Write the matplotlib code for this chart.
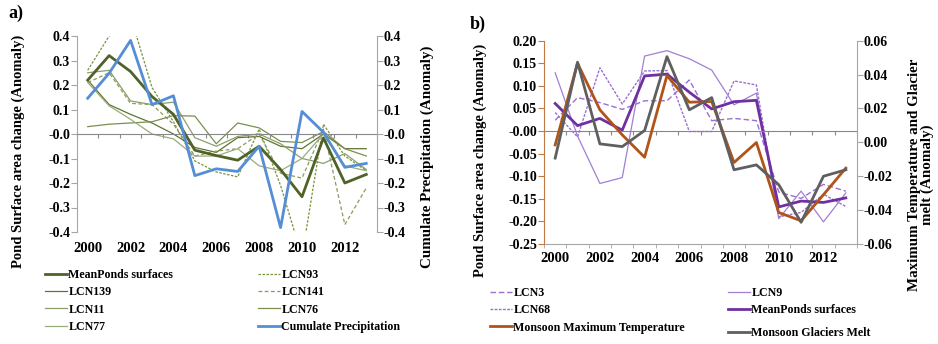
import matplotlib
matplotlib.use("Agg")
import matplotlib.pyplot as plt
from matplotlib.ticker import FormatStrFormatter
import numpy as np

plt.rcParams['font.family'] = ['Liberation Serif', 'DejaVu Serif']
plt.rcParams['font.weight'] = 'bold'
plt.rcParams['axes.unicode_minus'] = False

years = list(range(2000, 2014))
year_labels = [str(y) for y in years[::2]]

# ---- panel a: ponds vs precipitation
mean_a = [0.22, 0.32, 0.255, 0.153, 0.08, -0.066, -0.088, -0.107, -0.05, -0.145, -0.256, -0.016, -0.20, -0.165]
lcn93 = [0.26, 0.40, 0.48, 0.19, 0.05, -0.11, -0.155, -0.175, 0.02, -0.21, -0.50, 0.04, -0.09, -0.15]
lcn141 = [0.21, 0.25, 0.125, 0.12, 0.04, -0.09, -0.07, -0.06, 0.0, -0.16, -0.18, 0.02, -0.37, -0.22]
lcn139 = [0.22, 0.12, 0.08, 0.045, 0.0, -0.055, -0.075, -0.015, -0.01, -0.05, -0.06, 0.0, -0.06, -0.06]
lcn11 = [0.25, 0.26, 0.135, 0.12, 0.13, -0.015, -0.05, -0.01, 0.0, -0.04, -0.10, -0.12, -0.08, -0.145]
lcn76 = [0.03, 0.04, 0.045, 0.05, 0.075, 0.073, -0.04, 0.045, 0.025, -0.03, -0.035, 0.01, -0.06, -0.09]
lcn77 = [0.21, 0.115, 0.06, 0.0, -0.02, -0.09, -0.09, -0.06, -0.13, -0.15, -0.10, 0.0, -0.13, -0.15]
precip = [0.146, 0.248, 0.382, 0.12, 0.156, -0.17, -0.142, -0.153, -0.05, -0.382, 0.092, 0.007, -0.136, -0.12]

# ---- panel b: ponds vs temperature / glacier melt
lcn3 = [0.024, 0.074, 0.063, 0.048, 0.067, 0.067, 0.113, 0.023, 0.028, 0.023, -0.135, -0.149, -0.118, -0.133]
lcn68 = [0.041, -0.013, 0.140, 0.060, 0.133, 0.134, -0.001, -0.001, 0.111, 0.102, -0.19, -0.18, -0.14, -0.167]
lcn9 = [0.129, -0.011, -0.116, -0.103, 0.166, 0.178, 0.160, 0.135, 0.058, 0.084, -0.194, -0.133, -0.201, -0.137]
mean_b = [0.061, 0.012, 0.028, 0.002, 0.122, 0.126, 0.086, 0.049, 0.065, 0.068, -0.168, -0.155, -0.158, -0.148]
max_temp = [-0.0015, 0.0467, 0.0192, 0.0044, -0.0088, 0.0394, 0.0237, 0.0241, -0.0119, -0.0001, -0.0414, -0.0463, -0.0309, -0.0152]
glacier = [-0.0093, 0.0473, -0.0009, -0.0025, 0.0070, 0.0506, 0.0192, 0.0264, -0.0162, -0.0133, -0.0250, -0.0472, -0.0200, -0.0162]

W, H = 938, 344
fig = plt.figure(figsize=(W / 100, H / 100), dpi=100)

spine_grey = '#a6a6a6'
bounds = np.arange(1999.5, 2014.0, 1.0)


def fx(px):
    return px / W


def fy(py):
    return 1 - py / H


def style_axes(ax, ax2, ylim, y2lim, left_color, fmt, fmt2, yticks, y2ticks, bottom_line):
    ax.set_xlim(1999.5, 2013.5)
    ax.set_ylim(*ylim)
    ax2.set_ylim(*y2lim)
    for s in ['top', 'right']:
        ax.spines[s].set_visible(False)
    for s in ['top', 'left', 'bottom']:
        ax2.spines[s].set_visible(False)
    ax.spines['left'].set_color(left_color)
    ax2.spines['right'].set_color(spine_grey)
    # category axis crosses at zero
    ax.spines['bottom'].set_position(('data', 0))
    ax.spines['bottom'].set_color('#888888')
    ax.set_xticks(bounds)
    ax.set_xticklabels([])
    ax.tick_params(axis='x', length=3, color='#888888', direction='out')
    ax.set_yticks(yticks)
    ax.yaxis.set_major_formatter(FormatStrFormatter(fmt))
    ax.tick_params(axis='y', length=4, color=left_color, labelsize=10, pad=1)
    ax2.set_yticks(y2ticks)
    ax2.yaxis.set_major_formatter(FormatStrFormatter(fmt2))
    ax2.tick_params(axis='y', length=4, color=spine_grey, labelsize=10, pad=1)
    # year labels sit at the bottom of the plot area
    sec = ax.secondary_xaxis(0)
    sec.set_xticks(years[::2])
    sec.set_xticklabels(year_labels)
    sec.tick_params(axis='x', which='major', length=0, labelsize=10.5, pad=7 if not bottom_line else 6)
    if bottom_line:
        sec.spines['bottom'].set_color(spine_grey)
        sec.set_xticks(bounds, minor=True)
        sec.tick_params(axis='x', which='minor', length=3, color=spine_grey)
    else:
        sec.spines['bottom'].set_visible(False)


# ---------------- panel a
axa = fig.add_axes([fx(77), fy(232), fx(377) - fx(77), fy(36) - fy(232)])
axa2 = axa.twinx()
thin = 0.9
l_mean, = axa.plot(years, mean_a, color='#4f6228', lw=2.0, label='MeanPonds surfaces', zorder=5)
l93, = axa.plot(years, lcn93, color='#77933c', lw=thin, ls=(0, (2, 1.2)), label='LCN93')
l139, = axa.plot(years, lcn139, color='#5f7530', lw=thin, label='LCN139')
l141, = axa.plot(years, lcn141, color='#8a9a5b', lw=thin, ls=(0, (3, 2)), label='LCN141')
l11, = axa.plot(years, lcn11, color='#8c9f6a', lw=thin, label='LCN11')
l76, = axa.plot(years, lcn76, color='#7a8f50', lw=thin, label='LCN76')
l77, = axa.plot(years, lcn77, color='#9aab7c', lw=thin, label='LCN77')
l_pr, = axa2.plot(years, precip, color='#558ed5', lw=2.0, label='Cumulate Precipitation')
style_axes(axa, axa2, (-0.4, 0.4), (-0.4, 0.4), spine_grey, '%.1f', '%.1f',
           np.arange(-0.4, 0.41, 0.1), np.arange(-0.4, 0.41, 0.1), False)

fig.text(fx(18), fy(151), 'Pond Surface area change (Anomaly)', rotation=90,
         ha='center', va='center', fontsize=10.5)
fig.text(fx(427), fy(157), 'Cumulate Precipitation (Anomaly)', rotation=90,
         ha='center', va='center', fontsize=10.8)
fig.text(fx(8), fy(13), 'a)', ha='left', va='center', fontsize=13)

leg_kw = dict(frameon=False, fontsize=8.6, handlelength=1.8, handletextpad=0.15,
              labelspacing=0.44, borderpad=0, borderaxespad=0, loc='upper left')
fig.legend(handles=[l_mean, l139, l11, l77], bbox_to_anchor=(fx(45), fy(269)), **leg_kw)
fig.legend(handles=[l93, l141, l76, l_pr], bbox_to_anchor=(fx(258), fy(269)), **leg_kw)

# ---------------- panel b
axb = fig.add_axes([fx(544), fy(244), fx(857) - fx(544), fy(40.7) - fy(244)])
axb2 = axb.twinx()
purple = '#7030a0'
light_purple = '#9b6fd0'
m3, = axb.plot(years, lcn3, color=light_purple, lw=1.0, ls=(0, (4, 2)), label='LCN3')
m68, = axb.plot(years, lcn68, color=light_purple, lw=1.0, ls=(0, (2, 1)), label='LCN68')
m9, = axb.plot(years, lcn9, color='#a17fd3', lw=0.9, label='LCN9')
m_mean, = axb.plot(years, mean_b, color=purple, lw=2.0, label='MeanPonds surfaces')
m_temp, = axb2.plot(years, max_temp, color='#b0541a', lw=2.0, label='Monsoon Maximum Temperature')
m_gl, = axb2.plot(years, glacier, color='#5f5f5f', lw=2.0, label='Monsoon Glaciers Melt')
style_axes(axb, axb2, (-0.25, 0.20), (-0.06, 0.06), '#c07a45', '%.2f', '%.2f',
           np.arange(-0.25, 0.201, 0.05), np.arange(-0.06, 0.061, 0.02), True)

fig.text(fx(480), fy(160), 'Pond Surface area change (Anomaly)', rotation=90,
         ha='center', va='center', fontsize=10.5)
fig.text(fx(921), fy(175), 'Maximum Temperature and Glacier\nmelt (Anomaly)', rotation=90,
         ha='center', va='center', fontsize=10.8, linespacing=1.0)
fig.text(fx(470), fy(24), 'b)', ha='left', va='center', fontsize=13)

fig.legend(handles=[m3, m68, m_temp], bbox_to_anchor=(fx(490), fy(287)), **leg_kw)
fig.legend(handles=[m9, m_mean], bbox_to_anchor=(fx(728), fy(287)), **leg_kw)
fig.legend(handles=[m_gl], bbox_to_anchor=(fx(728), fy(327)), **leg_kw)

fig.savefig('out.png', dpi=100)
